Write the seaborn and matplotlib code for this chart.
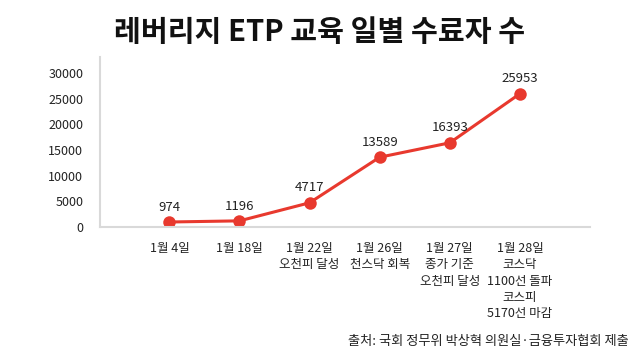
import pandas as pd
import seaborn as sns
import matplotlib
matplotlib.use('Agg')
import matplotlib.pyplot as plt

# Data.
dates = ["1월 4일", "1월 18일", "1월 22일\n오천피 달성", "1월 26일\n천스닥 회복",
         "1월 27일\n종가 기준\n오천피 달성",
         "1월 28일\n코스닥\n1100선 돌파\n코스피\n5170선 마감"]
graduates = [974, 1196, 4717, 13589, 16393, 25953]
yticks = [0, 5000, 10000, 15000, 20000, 25000, 30000]

title = "레버리지 ETP 교육 일별 수료자 수"
source = "출처: 국회 정무위 박상혁 의원실·금융투자협회 제출"

df = pd.DataFrame({"pos": range(len(dates)), "count": graduates})

sns.set_style("white")
plt.rcParams['font.family'] = ['Noto Sans CJK KR', 'DejaVu Sans']

red = "#E8392E"
fig = plt.figure(figsize=(6.4, 3.6), dpi=100)
ax = fig.add_axes([100 / 640, 1 - 227 / 360, 490 / 640, 170 / 360])

sns.lineplot(data=df, x="pos", y="count", ax=ax, color=red, linewidth=2.2,
             marker="o", markersize=9, markeredgewidth=0, legend=False)

for x, y in zip(df["pos"], df["count"]):
    ax.annotate(str(y), (x, y), xytext=(0, 6), textcoords="offset points",
                ha="center", va="bottom", fontsize=9.5, color="#222222")

ax.set_xlim(-0.99, 6.0)
ax.set_ylim(0, 33100)
ax.set_xticks(range(len(dates)))
ax.set_xticklabels(dates, fontsize=9, color="#222222", linespacing=1.32,
                   va="top")
ax.set_yticks(yticks)
ax.set_yticklabels([str(v) for v in yticks], fontsize=9, color="#222222")
ax.tick_params(axis="y", length=0, pad=12)
ax.tick_params(axis="x", length=0, pad=11)
ax.set_xlabel("")
ax.set_ylabel("")

sns.despine(ax=ax, top=True, right=True)
for side in ["left", "bottom"]:
    ax.spines[side].set_color("#D9D9D9")
    ax.spines[side].set_linewidth(1.5)

fig.text(0.5, 1 - 32 / 360, title, ha="center", va="center", fontsize=21,
         fontweight="bold", color="#111111")
fig.text(0.982, 1 - 341 / 360, source, ha="right", va="center", fontsize=9.5,
         color="#222222")

fig.savefig("out.png", dpi=100)
plt.close()
